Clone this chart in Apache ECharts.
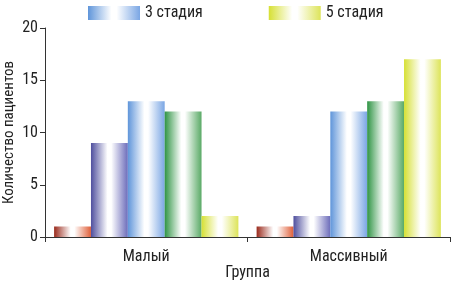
<!DOCTYPE html>
<html>
<head>
<meta charset="utf-8">
<script src="https://cdn.jsdelivr.net/npm/echarts@6/dist/echarts.min.js"></script>
<style>
  html, body { margin: 0; padding: 0; background: #fff; }
  #chart { width: 453px; height: 284px; }
</style>
</head>
<body>
<div id="chart"></div>
<script>
var categories = ["Малый", "Массивный"];
var seriesNames = ["1 стадия", "2 стадия", "3 стадия", "4 стадия", "5 стадия"];
var stage1 = [1, 1];
var stage2 = [9, 2];
var stage3 = [13, 12];
var stage4 = [12, 13];
var stage5 = [2, 17];
var legendNames = ["3 стадия", "5 стадия"];
var yTicks = [0, 5, 10, 15, 20];

var font = "'Liberation Sans Narrow', 'Roboto Condensed', 'Liberation Sans', sans-serif";

// левая и правая граница градиента для каждой стадии
var edgeColors = [
  ["#9a2a1c", "#e0603a"],
  ["#4f4f9e", "#6c6cba"],
  ["#5f95da", "#7aa6e4"],
  ["#2f9444", "#5aaa66"],
  ["#d6e034", "#dde45a"]
];

function grad(c) {
  return new echarts.graphic.LinearGradient(0, 0, 1, 0, [
    { offset: 0, color: c[0] },
    { offset: 0.45, color: "#ffffff" },
    { offset: 0.55, color: "#ffffff" },
    { offset: 1, color: c[1] }
  ]);
}

var data = [stage1, stage2, stage3, stage4, stage5];

var chart = echarts.init(document.getElementById("chart"));
var option = {
  animation: false,
  textStyle: { fontFamily: font },
  legend: {
    data: legendNames,
    icon: "rect",
    left: 83,
    top: 0,
    itemWidth: 52,
    itemHeight: 14,
    itemGap: 66,
    textStyle: { fontFamily: font, fontSize: 16, color: "#222" }
  },
  grid: {
    left: 45,
    right: 3,
    top: 28,
    bottom: 47,
    outerBoundsMode: "none"
  },
  xAxis: {
    type: "category",
    data: categories,
    name: "Группа",
    nameLocation: "middle",
    nameGap: 28,
    nameMoveOverlap: false,
    nameTextStyle: { fontFamily: font, fontSize: 16, color: "#222" },
    axisLine: { lineStyle: { color: "#333" } },
    axisTick: { show: true, length: 5, lineStyle: { color: "#333" } },
    axisLabel: { fontFamily: font, fontSize: 16, color: "#222", margin: 12 }
  },
  yAxis: {
    type: "value",
    min: 0,
    max: 20,
    interval: 5,
    name: "Количество пациентов",
    nameLocation: "middle",
    nameGap: 28,
    nameMoveOverlap: false,
    nameTextStyle: { fontFamily: font, fontSize: 15, color: "#222" },
    axisLine: { show: true, lineStyle: { color: "#333" } },
    axisTick: { show: true, length: 5, lineStyle: { color: "#333" } },
    axisLabel: {
      fontFamily: font, fontSize: 16, color: "#222", margin: 7,
      formatter: function (v) { return yTicks.indexOf(v) >= 0 ? v : ""; }
    },
    splitLine: { show: false }
  },
  series: seriesNames.map(function (name, i) {
    return {
      name: name,
      type: "bar",
      data: data[i],
      barGap: "0%",
      barCategoryGap: "9%",
      itemStyle: { color: grad(edgeColors[i]) }
    };
  })
};
chart.setOption(option);
</script>
</body>
</html>
